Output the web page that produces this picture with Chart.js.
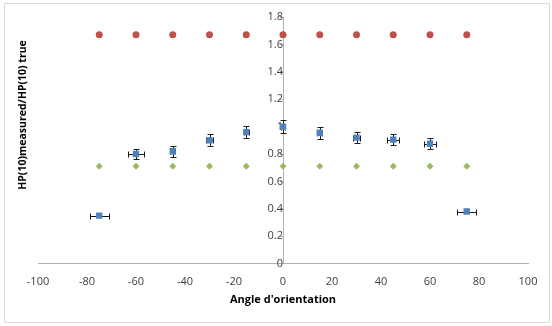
<!DOCTYPE html>
<html>
<head>
<meta charset="utf-8">
<script src="https://cdn.jsdelivr.net/npm/chart.js@4/dist/chart.umd.min.js"></script>
<style>
    body { margin: 0; background: #fff; }
    #wrap { width: 552px; height: 326px; }
</style>
</head>
<body>
<div id="wrap"><canvas id="orientation-chart" width="552" height="326"></canvas></div>
<script>
var angles = [-75, -60, -45, -30, -15, 0, 15, 30, 45, 60, 75];
var measured_values = [0.35, 0.80, 0.82, 0.90, 0.96, 1.00, 0.955, 0.92, 0.905, 0.875, 0.38];
var measured_y_err = [0.00, 0.04, 0.04, 0.045, 0.045, 0.05, 0.045, 0.04, 0.04, 0.04, 0.00];
var measured_x_err = [3.9, 3.2, 1.0, 1.5, 1.0, 1.0, 1.0, 1.5, 2.4, 2.4, 3.9];
var upper_values = [1.67, 1.67, 1.67, 1.67, 1.67, 1.67, 1.67, 1.67, 1.67, 1.67, 1.67];
var lower_values = [0.71, 0.71, 0.71, 0.71, 0.71, 0.71, 0.71, 0.71, 0.71, 0.71, 0.71];

var OrientationChart;

function toPoints(values) {
    var points = [];
    for (var i = 0; i < angles.length; i++) {
        points.push({ x: angles[i], y: values[i] });
    }
    return points;
}

// white background, frame and the left title (the y axis sits at x = 0)
var framePlugin = {
    id: 'frame',
    beforeDraw: function (chart) {
        var ctx = chart.ctx;
        ctx.save();
        ctx.fillStyle = '#ffffff';
        ctx.fillRect(0, 0, chart.width, chart.height);
        ctx.strokeStyle = '#d9d9d9';
        ctx.lineWidth = 1;
        ctx.strokeRect(4.5, 3.5, 545, 319);
        ctx.translate(23, 115);
        ctx.rotate(-Math.PI / 2);
        ctx.fillStyle = '#000000';
        ctx.font = 'bold 10.5px "Open Sans"';
        ctx.textAlign = 'center';
        ctx.textBaseline = 'middle';
        ctx.fillText('HP(10)measured/HP(10) true', 0, 0);
        ctx.restore();
    }
};

var errorBarPlugin = {
    id: 'errorBars',
    beforeDatasetsDraw: function (chart) {
        var ctx = chart.ctx;
        var xs = chart.scales.x;
        var ys = chart.scales.y;
        var cap = 3;
        ctx.save();
        ctx.strokeStyle = '#1a1a1a';
        ctx.lineWidth = 1;
        for (var i = 0; i < angles.length; i++) {
            var px = Math.round(xs.getPixelForValue(angles[i])) + 0.5;
            var py = Math.round(ys.getPixelForValue(measured_values[i])) + 0.5;
            if (measured_y_err[i] > 0) {
                var top = Math.round(ys.getPixelForValue(measured_values[i] + measured_y_err[i])) + 0.5;
                var bottom = Math.round(ys.getPixelForValue(measured_values[i] - measured_y_err[i])) + 0.5;
                ctx.beginPath();
                ctx.moveTo(px, top); ctx.lineTo(px, bottom);
                ctx.moveTo(px - cap, top); ctx.lineTo(px + cap, top);
                ctx.moveTo(px - cap, bottom); ctx.lineTo(px + cap, bottom);
                ctx.stroke();
            }
            if (measured_x_err[i] > 0) {
                var left = Math.round(xs.getPixelForValue(angles[i] - measured_x_err[i])) + 0.5;
                var right = Math.round(xs.getPixelForValue(angles[i] + measured_x_err[i])) + 0.5;
                ctx.beginPath();
                ctx.moveTo(left, py); ctx.lineTo(right, py);
                ctx.moveTo(left, py - cap); ctx.lineTo(left, py + cap);
                ctx.moveTo(right, py - cap); ctx.lineTo(right, py + cap);
                ctx.stroke();
            }
        }
        ctx.restore();
    }
};

function LoadOrientationChart() {
    var ctx = document.getElementById('orientation-chart');
    if (OrientationChart) {
        OrientationChart.destroy();
    }
    OrientationChart = new Chart(ctx, {
        type: 'scatter',
        data: {
            datasets: [{
                label: 'upper',
                data: toPoints(upper_values),
                pointStyle: 'circle',
                pointRadius: 3.5,
                backgroundColor: '#c0504d',
                borderColor: '#c0504d',
                borderWidth: 0
            }, {
                label: 'lower',
                data: toPoints(lower_values),
                pointStyle: 'rectRot',
                pointRadius: 3.5,
                backgroundColor: '#9bbb59',
                borderColor: '#9bbb59',
                borderWidth: 0
            }, {
                label: 'measured',
                data: toPoints(measured_values),
                pointStyle: 'rect',
                pointRadius: 4.5,
                backgroundColor: '#4f81bd',
                borderColor: '#4f81bd',
                borderWidth: 0
            }]
        },
        plugins: [framePlugin, errorBarPlugin],
        options: {
            responsive: false,
            animation: false,
            layout: {
                padding: { left: 38, right: 24, top: 17, bottom: 20 }
            },
            plugins: {
                legend: false,
                tooltip: { enabled: false }
            },
            scales: {
                x: {
                    type: 'linear',
                    min: -100,
                    max: 100,
                    ticks: { stepSize: 20, color: '#404040', font: { family: '"Open Sans"', size: 11 }, padding: 4 },
                    grid: { display: false },
                    border: { display: true, color: '#b3b3b3' },
                    title: {
                        display: true,
                        text: "Angle d'orientation",
                        color: '#000000',
                        font: { family: '"Open Sans"', size: 11, weight: 'bold' },
                        padding: { top: 0, bottom: 0 }
                    }
                },
                y: {
                    type: 'linear',
                    position: { x: 0 },
                    min: 0,
                    max: 1.8,
                    ticks: {
                        stepSize: 0.2,
                        color: '#404040',
                        font: { family: '"Open Sans"', size: 11 },
                        padding: 8,
                        callback: function (value) { return String(+value.toFixed(1)); }
                    },
                    grid: { display: true, drawOnChartArea: false, drawTicks: true, tickLength: 3, color: '#b3b3b3' },
                    border: { display: true, color: '#b3b3b3' }
                }
            }
        }
    });
}

LoadOrientationChart();
</script>
</body>
</html>
